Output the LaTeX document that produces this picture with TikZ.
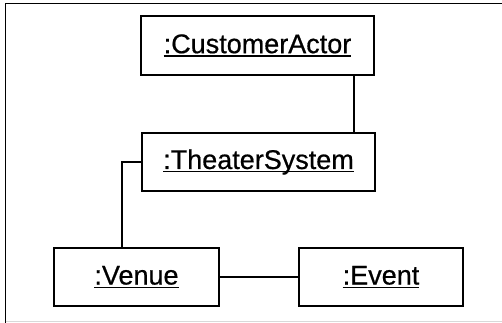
\documentclass[tikz,border=0pt]{standalone}
\usepackage{fontspec}
\setmainfont[FakeBold=0.6]{Liberation Sans}
\newcommand\myul[1]{\setbox0\hbox{#1}\rlap{\rule[-3.5pt]{\wd0}{1.4pt}}\box0}
\begin{document}
\begin{tikzpicture}[x=1pt,y=-1pt,
  obj/.style={draw, line width=1.7pt, inner sep=0pt, font=\fontsize{27}{32}\selectfont},
  conn/.style={line width=1.4pt}]
\useasboundingbox (0,0) rectangle (502,323);
\draw[line width=1.5pt] (502,3.5) -- (5.5,3.5) -- (5.5,323);
\draw[line width=1pt, black!15] (5.5,321.5) -- (502,321.5);
\node[obj, minimum width=233pt, minimum height=59pt] (ca) at (257.5,45.5) {\myul{:CustomerActor}};
\node[obj, minimum width=233pt, minimum height=58pt] (ts) at (258.5,162) {\myul{:TheaterSystem}};
\node[obj, minimum width=165pt, minimum height=58pt] (v) at (136.5,277) {\myul{:Venue}};
\node[obj, minimum width=164pt, minimum height=58pt] (e) at (381,277) {\myul{:Event}};
\coordinate (xa) at (354,0);
\coordinate (xb) at (122,0);
\draw[conn] (ca.south -| xa) -- (ts.north -| xa);
\draw[conn] (ts.west) -- (xb |- ts.west) -- (xb |- v.north);
\draw[conn] (v.east) -- (e.west);
\end{tikzpicture}
\end{document}
